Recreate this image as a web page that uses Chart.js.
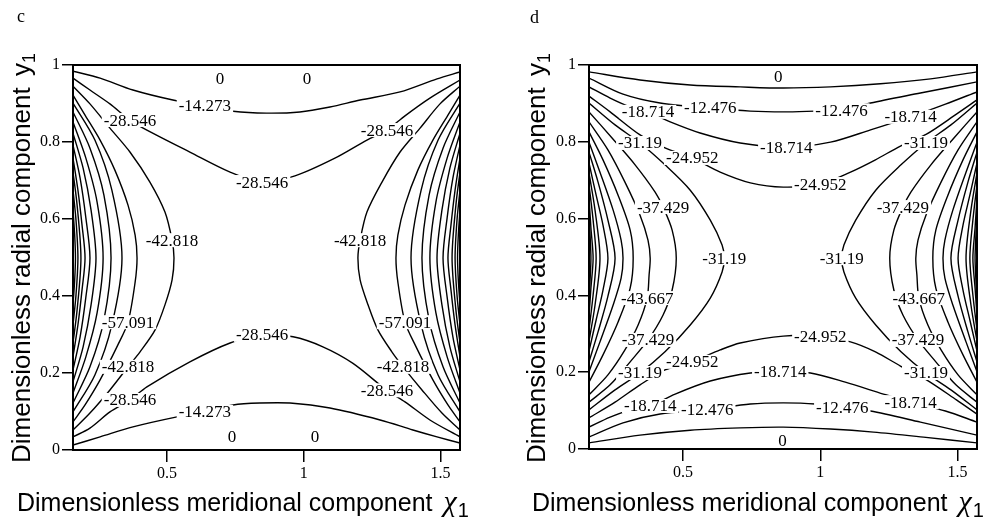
<!DOCTYPE html>
<html>
<head>
<meta charset="utf-8">
<script src="https://cdn.jsdelivr.net/npm/chart.js@4.4.0/dist/chart.umd.min.js"></script>
<style>
  html, body { margin: 0; padding: 0; background: #fff; }
  #wrap { position: relative; width: 1002px; height: 519px; overflow: hidden; }
  .panel { position: absolute; top: 0; width: 501px; height: 519px; }
</style>
</head>
<body>
<div id="wrap">
  <div class="panel" style="left:0"><canvas id="chartC" width="501" height="519"></canvas></div>
  <div class="panel" style="left:501px"><canvas id="chartD" width="501" height="519"></canvas></div>
</div>
<script>
// ---- shared axes ----
const xMin = 0.157, xMax = 1.571;
const xTicks = [0.5, 1, 1.5];
const xTickLabels = ['0.5', '1', '1.5'];
const yTicks = [0, 0.2, 0.4, 0.6, 0.8, 1];
const yTickLabels = ['0', '0.2', '0.4', '0.6', '0.8', '1'];

// ---- panel c: contour levels and the polyline of each contour (x, y pairs) ----
const levelsC = [0, 0, -14.273, -14.273, -28.546, -28.546, -42.818, -42.818, -57.091, -57.091,
  -71.364, -71.364, -85.637, -85.637, -99.909, -99.909, -114.18, -114.18, -128.455, -128.455,
  -142.727, -142.727, -157, -157, -171.27, -171.27, -185.546, -185.546];
const linesC = [
  [0.157, 1, 1.571, 1],
  [0.157, 0, 1.571, 0],
  [0.157,0.984, 0.256,0.966, 0.376,0.935, 0.522,0.909, 0.639,0.894, 0.742,0.880, 0.864,0.875, 0.986,0.878, 1.096,0.891, 1.206,0.909, 1.352,0.930, 1.487,0.964, 1.571,0.982],
  [0.157,0.013, 0.256,0.034, 0.376,0.060, 0.537,0.086, 0.639,0.099, 0.742,0.117, 0.840,0.122, 0.950,0.122, 1.096,0.109, 1.279,0.078, 1.399,0.052, 1.487,0.034, 1.571,0.018],
  [0.157,0.966, 0.219,0.935, 0.292,0.899, 0.365,0.857, 0.427,0.831, 0.584,0.774, 0.731,0.722, 0.848,0.696, 0.968,0.712, 1.114,0.758, 1.231,0.805, 1.304,0.831, 1.370,0.868, 1.461,0.914, 1.571,0.961],
  [0.157,0.034, 0.219,0.057, 0.292,0.099, 0.365,0.130, 0.427,0.164, 0.584,0.229, 0.731,0.278, 0.848,0.299, 0.961,0.294, 1.070,0.268, 1.180,0.225, 1.304,0.155, 1.370,0.125, 1.461,0.078, 1.571,0.034],
  [0.157,0.945, 0.219,0.899, 0.292,0.836, 0.365,0.774, 0.438,0.696, 0.493,0.618, 0.519,0.545, 0.526,0.499, 0.519,0.442, 0.493,0.377, 0.457,0.312, 0.402,0.255, 0.358,0.216, 0.292,0.156, 0.219,0.096, 0.157,0.052],
  [1.571,0.945, 1.498,0.899, 1.425,0.836, 1.352,0.774, 1.286,0.696, 1.231,0.618, 1.206,0.545, 1.198,0.499, 1.206,0.442, 1.235,0.377, 1.271,0.312, 1.322,0.255, 1.363,0.216, 1.432,0.156, 1.505,0.096, 1.571,0.052],
  [0.157,0.922, 0.201,0.870, 0.256,0.805, 0.310,0.727, 0.358,0.636, 0.384,0.558, 0.391,0.499, 0.384,0.436, 0.358,0.332, 0.321,0.273, 0.256,0.182, 0.201,0.117, 0.157,0.073],
  [1.571,0.922, 1.527,0.870, 1.472,0.805, 1.417,0.727, 1.370,0.636, 1.344,0.558, 1.337,0.499, 1.344,0.436, 1.370,0.332, 1.407,0.273, 1.472,0.182, 1.527,0.117, 1.571,0.073],
  [0.157,0.901, 0.237,0.805, 0.299,0.675, 0.336,0.499, 0.299,0.325, 0.237,0.195, 0.157,0.099],
  [1.571,0.901, 1.491,0.805, 1.429,0.675, 1.392,0.499, 1.429,0.325, 1.491,0.195, 1.571,0.099],
  [0.157,0.878, 0.219,0.784, 0.270,0.662, 0.296,0.499, 0.270,0.338, 0.219,0.216, 0.157,0.122],
  [1.571,0.878, 1.509,0.784, 1.458,0.662, 1.432,0.499, 1.458,0.338, 1.509,0.216, 1.571,0.122],
  [0.157,0.852, 0.204,0.758, 0.245,0.644, 0.267,0.499, 0.245,0.356, 0.204,0.242, 0.157,0.148],
  [1.571,0.852, 1.524,0.758, 1.483,0.644, 1.461,0.499, 1.483,0.356, 1.524,0.242, 1.571,0.148],
  [0.157,0.823, 0.194,0.732, 0.223,0.623, 0.241,0.499, 0.223,0.377, 0.194,0.268, 0.157,0.177],
  [1.571,0.823, 1.534,0.732, 1.505,0.623, 1.487,0.499, 1.505,0.377, 1.534,0.268, 1.571,0.177],
  [0.157,0.792, 0.183,0.706, 0.204,0.603, 0.219,0.499, 0.204,0.397, 0.183,0.294, 0.157,0.208],
  [1.571,0.792, 1.545,0.706, 1.524,0.603, 1.509,0.499, 1.524,0.397, 1.545,0.294, 1.571,0.208],
  [0.157,0.758, 0.175,0.675, 0.190,0.584, 0.201,0.499, 0.190,0.416, 0.175,0.325, 0.157,0.242],
  [1.571,0.758, 1.553,0.675, 1.538,0.584, 1.527,0.499, 1.538,0.416, 1.553,0.325, 1.571,0.242],
  [0.157,0.722, 0.172,0.636, 0.186,0.499, 0.172,0.364, 0.157,0.278],
  [1.571,0.722, 1.556,0.636, 1.542,0.499, 1.556,0.364, 1.571,0.278],
  [0.157,0.675, 0.168,0.597, 0.175,0.499, 0.168,0.403, 0.157,0.325],
  [1.571,0.675, 1.560,0.597, 1.553,0.499, 1.560,0.403, 1.571,0.325],
  [0.157,0.623, 0.163,0.560, 0.166,0.499, 0.163,0.440, 0.157,0.377],
  [1.571,0.623, 1.565,0.560, 1.562,0.499, 1.565,0.440, 1.571,0.377]
];
// label anchors: x, y, index of the contour whose level is printed
const labelsC = [
  [0.694,0.966,0], [1.012,0.966,0], [0.738,0.034,1], [1.041,0.034,1],
  [0.639,0.894,2], [0.639,0.099,3],
  [0.365,0.857,4], [0.848,0.696,4], [1.304,0.831,4],
  [0.365,0.130,5], [0.848,0.299,5], [1.304,0.155,5],
  [0.519,0.545,6], [0.358,0.216,6], [1.206,0.545,7], [1.363,0.216,7],
  [0.358,0.332,8], [1.370,0.332,9]
];

// ---- panel d ----
const levelsD = [0, 0, -6.238, -6.238, -12.476, -12.476, -18.714, -18.714, -24.952, -24.952,
  -31.19, -31.19, -37.429, -37.429, -43.667, -43.667, -49.905, -49.905, -56.143, -56.143,
  -62.381, -62.381, -68.619, -68.619, -74.857, -74.857, -81.095, -81.095, -87.333, -87.333,
  -93.571, -93.571];
const linesD = [
  [0.157, 1, 1.571, 1],
  [0.157, 0, 1.571, 0],
  [0.157,0.982, 0.343,0.961, 0.526,0.948, 0.708,0.943, 0.865,0.940, 1.037,0.943, 1.219,0.951, 1.402,0.964, 1.571,0.982],
  [0.157,0.016, 0.343,0.036, 0.526,0.049, 0.708,0.055, 0.865,0.057, 1.037,0.052, 1.194,0.044, 1.376,0.031, 1.571,0.016],
  [0.157,0.966, 0.281,0.924, 0.416,0.901, 0.599,0.888, 0.745,0.880, 0.865,0.878, 0.982,0.880, 1.077,0.882, 1.183,0.901, 1.365,0.927, 1.571,0.956],
  [0.157,0.031, 0.281,0.068, 0.416,0.091, 0.588,0.102, 0.745,0.117, 0.865,0.120, 0.982,0.117, 1.080,0.107, 1.183,0.099, 1.365,0.070, 1.571,0.036],
  [0.157,0.943, 0.234,0.914, 0.307,0.891, 0.372,0.878, 0.453,0.852, 0.562,0.823, 0.708,0.797, 0.876,0.786, 1.037,0.799, 1.183,0.831, 1.329,0.865, 1.456,0.898, 1.571,0.930],
  [0.157,0.057, 0.234,0.083, 0.307,0.102, 0.380,0.112, 0.471,0.143, 0.599,0.177, 0.745,0.198, 0.854,0.201, 0.964,0.198, 1.091,0.174, 1.230,0.143, 1.329,0.122, 1.456,0.099, 1.571,0.070],
  [0.157,0.919, 0.234,0.878, 0.343,0.818, 0.434,0.784, 0.533,0.758, 0.635,0.721, 0.745,0.693, 0.865,0.682, 1.000,0.690, 1.110,0.721, 1.201,0.753, 1.292,0.789, 1.387,0.820, 1.496,0.872, 1.571,0.909],
  [0.157,0.081, 0.252,0.122, 0.343,0.167, 0.434,0.206, 0.533,0.227, 0.635,0.258, 0.708,0.276, 0.865,0.294, 1.000,0.294, 1.110,0.279, 1.201,0.253, 1.292,0.216, 1.387,0.180, 1.496,0.128, 1.571,0.091],
  [0.157,0.901, 0.252,0.844, 0.343,0.797, 0.434,0.740, 0.526,0.674, 0.599,0.596, 0.642,0.531, 0.650,0.497, 0.642,0.461, 0.599,0.393, 0.526,0.323, 0.434,0.253, 0.343,0.198, 0.252,0.154, 0.157,0.102],
  [1.571,0.901, 1.476,0.844, 1.385,0.797, 1.294,0.740, 1.202,0.674, 1.129,0.596, 1.086,0.531, 1.078,0.497, 1.086,0.461, 1.129,0.393, 1.202,0.323, 1.294,0.253, 1.385,0.198, 1.476,0.154, 1.571,0.102],
  [0.157,0.878, 0.241,0.810, 0.325,0.740, 0.398,0.669, 0.427,0.630, 0.460,0.570, 0.475,0.497, 0.460,0.414, 0.427,0.349, 0.372,0.284, 0.307,0.227, 0.234,0.167, 0.157,0.122],
  [1.571,0.878, 1.487,0.810, 1.403,0.740, 1.330,0.669, 1.301,0.630, 1.268,0.570, 1.253,0.497, 1.268,0.414, 1.301,0.349, 1.356,0.284, 1.421,0.227, 1.494,0.167, 1.571,0.122],
  [0.157,0.852, 0.226,0.779, 0.288,0.695, 0.343,0.609, 0.372,0.544, 0.380,0.497, 0.376,0.453, 0.369,0.393, 0.336,0.323, 0.288,0.258, 0.226,0.193, 0.157,0.141],
  [1.571,0.852, 1.502,0.779, 1.440,0.695, 1.385,0.609, 1.356,0.544, 1.348,0.497, 1.352,0.453, 1.359,0.393, 1.392,0.323, 1.440,0.258, 1.502,0.193, 1.571,0.141],
  [0.157,0.826, 0.208,0.753, 0.263,0.661, 0.307,0.570, 0.318,0.497, 0.307,0.419, 0.263,0.331, 0.208,0.245, 0.157,0.174],
  [1.571,0.826, 1.520,0.753, 1.465,0.661, 1.421,0.570, 1.410,0.497, 1.421,0.419, 1.465,0.331, 1.520,0.245, 1.571,0.174],
  [0.157,0.799, 0.197,0.721, 0.245,0.622, 0.274,0.544, 0.281,0.497, 0.274,0.445, 0.245,0.375, 0.197,0.279, 0.157,0.201],
  [1.571,0.799, 1.531,0.721, 1.483,0.622, 1.454,0.544, 1.447,0.497, 1.454,0.445, 1.483,0.375, 1.531,0.279, 1.571,0.201],
  [0.157,0.773, 0.190,0.695, 0.226,0.596, 0.252,0.497, 0.226,0.398, 0.190,0.305, 0.157,0.227],
  [1.571,0.773, 1.538,0.695, 1.502,0.596, 1.476,0.497, 1.502,0.398, 1.538,0.305, 1.571,0.227],
  [0.157,0.745, 0.183,0.661, 0.208,0.583, 0.226,0.497, 0.208,0.414, 0.183,0.336, 0.157,0.255],
  [1.571,0.745, 1.545,0.661, 1.520,0.583, 1.502,0.497, 1.520,0.414, 1.545,0.336, 1.571,0.255],
  [0.157,0.719, 0.179,0.622, 0.197,0.497, 0.179,0.375, 0.157,0.281],
  [1.571,0.719, 1.549,0.622, 1.531,0.497, 1.549,0.375, 1.571,0.281],
  [0.157,0.688, 0.172,0.596, 0.183,0.497, 0.172,0.401, 0.157,0.310],
  [1.571,0.688, 1.556,0.596, 1.545,0.497, 1.556,0.401, 1.571,0.310],
  [0.157,0.654, 0.164,0.576, 0.172,0.497, 0.164,0.419, 0.157,0.346],
  [1.571,0.654, 1.564,0.576, 1.556,0.497, 1.564,0.419, 1.571,0.346],
  [0.157,0.615, 0.161,0.556, 0.164,0.497, 0.161,0.440, 0.157,0.383],
  [1.571,0.615, 1.567,0.556, 1.564,0.497, 1.567,0.440, 1.571,0.383]
];
const labelsD = [
  [0.847,0.969,0], [0.862,0.023,1],
  [0.599,0.888,4], [1.077,0.882,4], [0.588,0.102,5], [1.080,0.107,5],
  [0.372,0.878,6], [0.876,0.786,6], [1.329,0.865,6],
  [0.380,0.112,7], [0.854,0.201,7], [1.329,0.122,7],
  [0.533,0.758,8], [1.000,0.690,8], [0.533,0.227,9], [1.000,0.294,9],
  [0.343,0.797,10], [0.650,0.497,10], [0.343,0.198,10],
  [1.078,0.497,11], [1.385,0.797,11], [1.385,0.198,11],
  [0.427,0.630,12], [0.372,0.284,12], [1.301,0.630,13], [1.356,0.284,13],
  [0.369,0.393,14], [1.359,0.393,15]
];

const SANS = '"Liberation Sans", Arial, sans-serif';
const SERIF = '"Liberation Serif", "Times New Roman", serif';
const levelText = v => String(v);

// labels, frame and titles drawn on top of the library's scales
const decorPlugin = {
  id: 'decor',
  afterDatasetsDraw(chart, args, opts) {
    const ctx = chart.ctx, xs = chart.scales.x, ys = chart.scales.y;
    ctx.save();
    ctx.font = '17px ' + SERIF;
    ctx.textAlign = 'center';
    ctx.textBaseline = 'middle';
    for (const [x, y, i] of opts.labels) {
      const t = levelText(opts.levels[i]);
      const px = xs.getPixelForValue(x), py = ys.getPixelForValue(y);
      const w = ctx.measureText(t).width;
      ctx.fillStyle = '#fff';
      ctx.fillRect(px - w / 2 - 2, py - 7, w + 4, 14);
      ctx.fillStyle = '#000';
      ctx.fillText(t, px, py + 1);
    }
    ctx.restore();
  },
  afterDraw(chart, args, opts) {
    const ctx = chart.ctx, a = chart.chartArea;
    ctx.save();
    ctx.strokeStyle = '#000';
    ctx.lineWidth = 2;
    ctx.strokeRect(a.left, a.top, a.right - a.left, a.bottom - a.top);

    ctx.fillStyle = '#000';
    ctx.textAlign = 'left';
    ctx.textBaseline = 'alphabetic';
    // panel letter
    ctx.font = '18px ' + SERIF;
    ctx.fillText(opts.letter, opts.letterX, opts.letterY);

    // horizontal axis title with chi_1
    ctx.font = '25px ' + SANS;
    const xt = 'Dimensionless meridional component';
    ctx.fillText(xt, opts.xTitleX, 511);
    let cx = opts.xTitleX + ctx.measureText(xt).width + 11;
    ctx.font = 'italic 30px ' + SERIF;
    ctx.fillText('\u03C7', cx, 511);
    cx += ctx.measureText('\u03C7').width + 1;
    ctx.font = '20px ' + SANS;
    ctx.fillText('1', cx, 517);

    // vertical axis title with y_1
    ctx.translate(opts.yTitleX, 463);
    ctx.rotate(-Math.PI / 2);
    ctx.font = '26px ' + SANS;
    const yt = 'Dimensionless radial component ';
    ctx.fillText(yt, 0, 0);
    let cy = ctx.measureText(yt).width + 4;
    ctx.fillText('y', cy, 0);
    cy += ctx.measureText('y').width;
    ctx.font = '18px ' + SANS;
    ctx.fillText('1', cy, 5);
    ctx.restore();
  }
};

function buildPanel(id, levels, lines, labels, layout) {
  const datasets = lines.map((flat, i) => {
    const pts = [];
    for (let k = 0; k < flat.length; k += 2) pts.push({ x: flat[k], y: flat[k + 1] });
    return {
      label: levelText(levels[i]),
      data: pts,
      borderColor: '#000',
      borderWidth: 1.4,
      pointRadius: 0,
      tension: 0.3,
      fill: false
    };
  });
  const tickFont = { family: SERIF, size: 16 };
  return new Chart(document.getElementById(id), {
    type: 'line',
    data: { datasets },
    options: {
      responsive: false,
      animation: false,
      events: [],
      layout: { padding: { left: 0, right: layout.padRight, top: 65, bottom: 0 } },
      plugins: {
        legend: { display: false },
        tooltip: { enabled: false },
        decor: {
          levels, labels,
          letter: layout.letter, letterX: layout.letterX, letterY: layout.letterY,
          xTitleX: layout.xTitleX, yTitleX: layout.yTitleX
        }
      },
      scales: {
        x: {
          type: 'linear', min: xMin, max: xMax,
          afterBuildTicks: s => { s.ticks = xTicks.map(v => ({ value: v })); },
          afterFit: s => { s.height = layout.xAxisH; },
          ticks: {
            callback: v => xTickLabels[xTicks.indexOf(v)],
            font: tickFont, color: '#000', padding: 2, maxRotation: 0, autoSkip: false
          },
          grid: { drawOnChartArea: false, drawTicks: true, tickLength: 12, color: '#000', lineWidth: 1.5 },
          border: { display: true, color: '#000', width: 2 }
        },
        y: {
          type: 'linear', min: 0, max: 1,
          afterBuildTicks: s => { s.ticks = yTicks.map(v => ({ value: v })); },
          afterFit: s => { s.width = layout.yAxisW; },
          ticks: {
            callback: v => yTickLabels[yTicks.indexOf(v)],
            font: tickFont, color: '#000', padding: 2, autoSkip: false
          },
          grid: { drawOnChartArea: false, drawTicks: true, tickLength: 11, color: '#000', lineWidth: 1.5 },
          border: { display: true, color: '#000', width: 2 }
        }
      }
    },
    plugins: [decorPlugin]
  });
}

buildPanel('chartC', levelsC, linesC, labelsC, {
  padRight: 41, xAxisH: 69, yAxisW: 73,
  letter: 'c', letterX: 17, letterY: 22, xTitleX: 17, yTitleX: 30
});
buildPanel('chartD', levelsD, linesD, labelsD, {
  padRight: 25, xAxisH: 70, yAxisW: 88,
  letter: 'd', letterX: 29, letterY: 23, xTitleX: 31, yTitleX: 44
});
</script>
</body>
</html>
